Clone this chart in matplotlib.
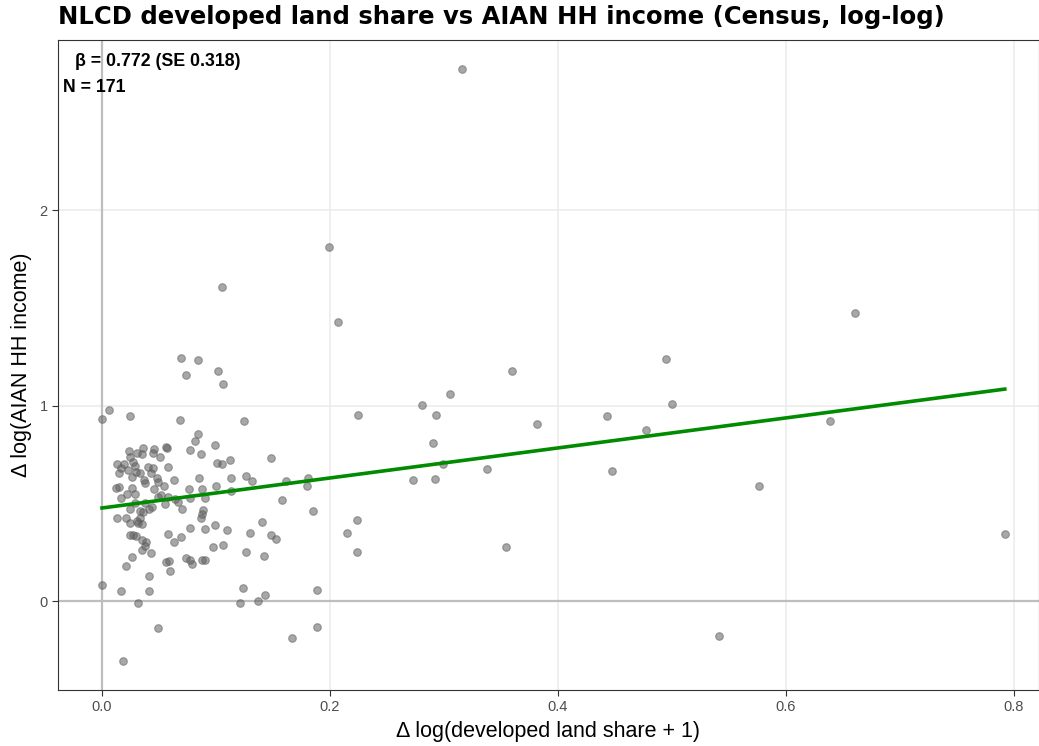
import numpy as np
import matplotlib
matplotlib.use("Agg")
import matplotlib.pyplot as plt

plt.rcParams['font.family'] = ['Liberation Sans', 'DejaVu Sans']

# change in log(developed land share + 1)
dev_share = [
    0.661, 0.495, 0.500, 0.443, 0.477, 0.639, 0.447, 0.576, 0.792, 0.541,
    0.382, 0.316, 0.199, 0.207, 0.360, 0.305, 0.281, 0.225, 0.293, 0.125,
    0.290, 0.148, 0.299, 0.338, 0.126, 0.132, 0.161, 0.181, 0.180, 0.273,
    0.292, 0.158, 0.185, 0.140, 0.224, 0.130, 0.148, 0.153, 0.215, 0.126,
    0.142, 0.224, 0.354, 0.124, 0.143, 0.137, 0.121, 0.189, 0.189, 0.167,
    0.099, 0.087, 0.101, 0.105, 0.112, 0.085, 0.113, 0.100, 0.088, 0.113,
    0.090, 0.089, 0.088, 0.087, 0.099, 0.090, 0.110, 0.097, 0.106, 0.088,
    0.090, 0.105, 0.102, 0.106, 0.084, 0.084, 0.082, 0.069, 0.074, 0.006,
    0.000, 0.025, 0.068, 0.077, 0.056, 0.057, 0.024, 0.036, 0.035, 0.031,
    0.025, 0.046, 0.045, 0.051, 0.013, 0.027, 0.029, 0.017, 0.023, 0.030,
    0.040, 0.045, 0.058, 0.015, 0.026, 0.033, 0.043, 0.048, 0.063, 0.049,
    0.038, 0.012, 0.015, 0.026, 0.046, 0.022, 0.029, 0.017, 0.049, 0.058,
    0.076, 0.067, 0.077, 0.029, 0.038, 0.055, 0.025, 0.033, 0.036, 0.041,
    0.070, 0.013, 0.021, 0.033, 0.032, 0.025, 0.035, 0.077, 0.025, 0.027,
    0.030, 0.035, 0.039, 0.038, 0.058, 0.063, 0.069, 0.035, 0.043, 0.026,
    0.021, 0.056, 0.059, 0.060, 0.074, 0.077, 0.079, 0.041, 0.000, 0.017,
    0.041, 0.032, 0.049, 0.018, 0.037, 0.052, 0.019, 0.044, 0.064, 0.031,
    0.054,
]
# change in log(AIAN household income)
aian_income = [
    1.475, 1.238, 1.006, 0.948, 0.873, 0.921, 0.666, 0.590, 0.341, -0.181,
    0.904, 2.721, 1.812, 1.429, 1.175, 1.057, 1.004, 0.951, 0.951, 0.919,
    0.807, 0.733, 0.699, 0.675, 0.642, 0.614, 0.612, 0.628, 0.591, 0.617,
    0.626, 0.516, 0.459, 0.406, 0.416, 0.346, 0.340, 0.315, 0.346, 0.251,
    0.233, 0.252, 0.278, 0.068, 0.030, 0.002, -0.009, 0.059, -0.133, -0.191,
    0.800, 0.752, 0.704, 0.701, 0.723, 0.628, 0.631, 0.587, 0.573, 0.561,
    0.528, 0.465, 0.445, 0.423, 0.389, 0.368, 0.363, 0.278, 0.285, 0.210,
    0.212, 1.608, 1.178, 1.110, 1.233, 0.853, 0.818, 1.241, 1.154, 0.975,
    0.929, 0.945, 0.926, 0.772, 0.788, 0.783, 0.767, 0.781, 0.752, 0.755,
    0.738, 0.777, 0.755, 0.735, 0.702, 0.713, 0.692, 0.680, 0.670, 0.661,
    0.687, 0.679, 0.685, 0.653, 0.633, 0.653, 0.656, 0.631, 0.619, 0.610,
    0.605, 0.576, 0.585, 0.580, 0.571, 0.546, 0.546, 0.525, 0.534, 0.534,
    0.571, 0.508, 0.525, 0.500, 0.500, 0.495, 0.469, 0.462, 0.457, 0.469,
    0.469, 0.426, 0.426, 0.426, 0.397, 0.397, 0.392, 0.372, 0.338, 0.338,
    0.332, 0.312, 0.303, 0.281, 0.343, 0.300, 0.326, 0.261, 0.244, 0.224,
    0.181, 0.199, 0.206, 0.153, 0.218, 0.210, 0.188, 0.126, 0.080, 0.053,
    0.050, -0.010, -0.138, -0.307, 0.620, 0.545, 0.700, 0.480, 0.520, 0.410,
    0.590,
]

# fitted line as drawn on the chart
fit_intercept = 0.476
fit_slope = 0.768

beta_text = "β = 0.772 (SE 0.318)"
n_text = "N = 171"

x = np.array(dev_share)
y = np.array(aian_income)
xfit = np.array([x.min(), x.max()])

fig = plt.figure(figsize=(10.39, 7.46), dpi=100)
ax = fig.add_axes([58/1039, 1-690/746, 1-58/1039, (690-40)/746])

ax.grid(True, color='#EBEBEB', lw=1.1, zorder=0)
ax.set_axisbelow(True)
ax.axhline(0, color='#BEBEBE', lw=1.6, zorder=1)
ax.axvline(0, color='#BEBEBE', lw=1.6, zorder=1)

ax.scatter(x, y, s=30, color='#5f5f5f', alpha=0.55, edgecolors='#5f5f5f',
           linewidths=0.8, zorder=2)
ax.plot(xfit, fit_intercept + fit_slope * xfit, color='#008B00', lw=2.6, zorder=3)

ax.set_xlim(-0.0386, 0.822)
ax.set_ylim(-0.455, 2.870)
ax.set_xticks([0.0, 0.2, 0.4, 0.6, 0.8])
ax.set_yticks([0, 1, 2])
ax.tick_params(colors='#333333', labelcolor='#4D4D4D', labelsize=10.5,
               length=4, width=0.8)
for s in ax.spines.values():
    s.set_color('#333333')
    s.set_linewidth(0.8)

ax.set_xlabel("Δ log(developed land share + 1)", fontsize=15.5, labelpad=5)
ax.set_ylabel("Δ log(AIAN HH income)", fontsize=15.5, labelpad=5)

fig.text(75/1039, 1 - 62/746, beta_text, fontsize=12.8, fontweight='bold',
         ha='left', va='center')
fig.text(63/1039, 1 - 87/746, n_text, fontsize=12.8, fontweight='bold',
         ha='left', va='center')

fig.text(58/1039, 1 - 17/746, "NLCD developed land share vs AIAN HH income (Census, log-log)",
         fontsize=17.5, fontweight='bold', ha='left', va='center',
         family=['DejaVu Sans'])

fig.savefig("out.png", dpi=100)
